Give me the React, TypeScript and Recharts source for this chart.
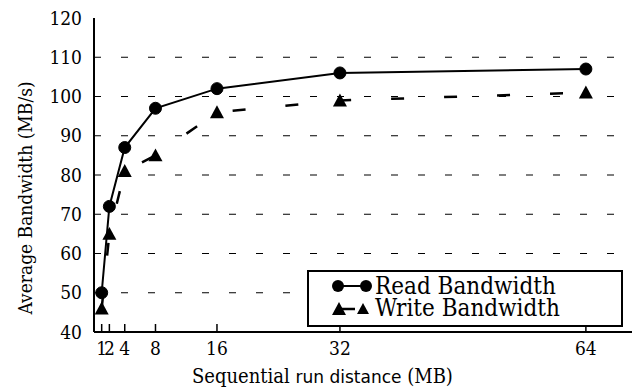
import React from 'react';
import {
  LineChart,
  Line,
  XAxis,
  YAxis,
  ReferenceLine,
  Legend,
} from 'recharts';

const runDistance = [1, 2, 4, 8, 16, 32, 64];
const readBandwidth = [50, 72, 87, 97, 102, 106, 107];
const writeBandwidth = [46, 65, 81, 85, 96, 99, 101];
const xTicks = [1, 2, 4, 8, 16, 32, 64];
const yTicks = [40, 50, 60, 70, 80, 90, 100, 110, 120];
const innerYTicks = [50, 60, 70, 80, 90, 100, 110];

const data = runDistance.map((d, i) => ({
  dist: d,
  read: readBandwidth[i],
  write: writeBandwidth[i],
}));

const SERIF = 'DejaVu Serif';
const serifStyle = { fontFamily: SERIF, fontStretch: 'condensed' };

const triangle = (cx: number, cy: number, s: number) =>
  `M${cx},${cy - s} L${cx + s},${cy + s * 0.85} L${cx - s},${cy + s * 0.85} Z`;

function BottomTick(props: any) {
  const { x, y, payload } = props;
  return (
    <text x={x} y={y + 23} textAnchor="middle" fontSize={19} style={serifStyle} fill="#000">
      {payload.value}
    </text>
  );
}

function WriteDot(props: any) {
  const { cx, cy, index } = props;
  return <path key={`wd-${index}`} d={triangle(cx, cy, 7)} fill="#000" />;
}

function LegendBox() {
  return (
    <div
      style={{
        boxSizing: 'border-box',
        width: 316,
        height: 57,
        border: '2px solid #000',
        background: '#fff',
        paddingTop: 3,
        ...serifStyle,
        fontSize: 24,
        lineHeight: '22px',
        color: '#000',
        textAlign: 'left',
      }}
    >
      <div style={{ display: 'flex', alignItems: 'center', height: 22 }}>
        <svg width={66} height={22}>
          <line x1={29} y1={11} x2={57} y2={11} stroke="#000" strokeWidth={2} />
          <circle cx={29} cy={11} r={6} fill="#000" />
          <circle cx={57} cy={11} r={6} fill="#000" />
        </svg>
        <span>Read Bandwidth</span>
      </div>
      <div style={{ display: 'flex', alignItems: 'center', height: 22 }}>
        <svg width={66} height={22}>
          <line x1={31} y1={12} x2={46} y2={12} stroke="#000" strokeWidth={2.5} />
          <path d={triangle(30, 12, 7)} fill="#000" />
          <path d={triangle(54, 12, 6)} fill="#000" />
        </svg>
        <span>Write Bandwidth</span>
      </div>
    </div>
  );
}

export default function App() {
  return (
    <div style={{ position: 'absolute', left: 0, top: 0, background: '#fff' }}>
      <LineChart
        width={639}
        height={388}
        data={data}
        margin={{ top: 18, right: 7, left: 0, bottom: 0 }}
      >
        {innerYTicks.map((v) => (
          <ReferenceLine
            key={`g-${v}`}
            y={v}
            stroke="#000"
            strokeWidth={1.2}
            strokeDasharray="7 20"
          />
        ))}
        <XAxis
          dataKey="dist"
          type="number"
          domain={[0, 70]}
          ticks={xTicks}
          interval={0}
          height={56}
          tickSize={-8}
          tickMargin={8}
          tickLine={{ stroke: '#000', strokeWidth: 1.5 }}
          axisLine={{ stroke: '#000', strokeWidth: 2 }}
          tick={<BottomTick />}
          label={(p: any) => {
            const vb = p.viewBox;
            return (
              <text x={vb.x + 98} y={vb.y + 51} fill="#000" fontSize={20} style={serifStyle}>
                <tspan>Sequential </tspan>
                <tspan style={{ fontFamily: 'DejaVu Sans', fontStretch: 'normal' }} fontSize={17}>
                  run distance
                </tspan>
                <tspan> (MB)</tspan>
              </text>
            );
          }}
        />
        <XAxis
          xAxisId="top"
          orientation="top"
          type="number"
          domain={[0, 70]}
          ticks={xTicks}
          interval={0}
          height={0}
          tickSize={-8}
          tickMargin={0}
          tick={false}
          tickLine={{ stroke: '#000', strokeWidth: 1.5 }}
          axisLine={{ stroke: '#000', strokeWidth: 2 }}
        />
        <YAxis
          type="number"
          domain={[40, 120]}
          ticks={yTicks}
          interval={0}
          width={94}
          tickSize={0}
          tickMargin={12}
          tickLine={false}
          axisLine={{ stroke: '#000', strokeWidth: 2 }}
          tick={{ fill: '#000', fontSize: 19, style: serifStyle }}
          label={(p: any) => {
            const vb = p.viewBox;
            const cx = vb.x + 25;
            const cy = vb.y + vb.height / 2 + 23;
            return (
              <text
                x={cx}
                y={cy}
                transform={`rotate(-90, ${cx}, ${cy})`}
                textAnchor="middle"
                dominantBaseline="central"
                fill="#000"
                fontSize={19}
                style={serifStyle}
              >
                Average Bandwidth (MB/s)
              </text>
            );
          }}
        />
        <YAxis
          yAxisId="right"
          orientation="right"
          type="number"
          domain={[40, 120]}
          ticks={innerYTicks}
          interval={0}
          width={0}
          tickSize={-10}
          tickMargin={0}
          tick={false}
          tickLine={{ stroke: '#000', strokeWidth: 1.5 }}
          axisLine={{ stroke: '#000', strokeWidth: 2 }}
        />
        <Line
          dataKey="write"
          name="Write Bandwidth"
          stroke="#000"
          strokeWidth={2.5}
          strokeDasharray="13 40"
          dot={WriteDot}
          activeDot={false}
          isAnimationActive={false}
        />
        <Line
          dataKey="read"
          name="Read Bandwidth"
          stroke="#000"
          strokeWidth={2}
          dot={{ r: 6, fill: '#000', stroke: '#000', strokeWidth: 1 }}
          activeDot={false}
          isAnimationActive={false}
        />
        <Legend
          layout="horizontal"
          verticalAlign="middle"
          align="center"
          content={<LegendBox />}
          wrapperStyle={{ left: 307, top: 270, width: 316, height: 57 }}
        />
      </LineChart>
    </div>
  );
}
